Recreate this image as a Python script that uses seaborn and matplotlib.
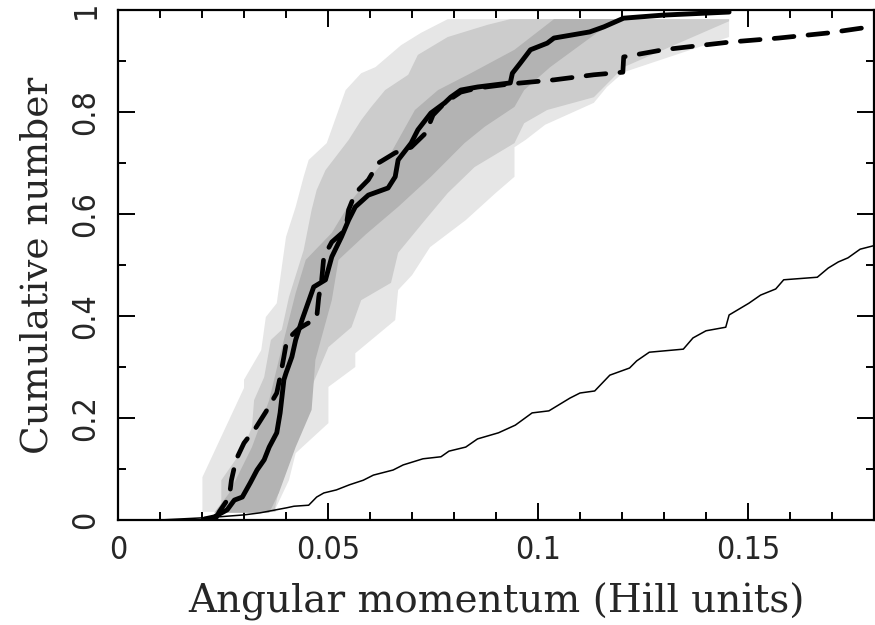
import numpy as np
import matplotlib
matplotlib.use("Agg")
import matplotlib.pyplot as plt
import seaborn as sns
from matplotlib.ticker import MultipleLocator, FuncFormatter

# ---------------- data ----------------
# outer (lightest) band: left edge bottom->top, right edge top->bottom
light_left_x = [0.0201, 0.0201, 0.0300, 0.0300, 0.0341, 0.0352, 0.0378, 0.0400, 0.0423, 0.0442,
                0.0454, 0.0497, 0.0542, 0.0579, 0.0613, 0.0674, 0.0721, 0.0785]
light_left_y = [0.016, 0.084, 0.259, 0.275, 0.333, 0.398, 0.425, 0.555, 0.614, 0.673,
                0.706, 0.739, 0.843, 0.876, 0.888, 0.931, 0.955, 0.982]
light_right_x = [0.1455, 0.1455, 0.1204, 0.1164, 0.1133, 0.1017, 0.0970, 0.0944, 0.0944, 0.0899,
                 0.0828, 0.0743, 0.0700, 0.0667, 0.0660, 0.0565, 0.0565, 0.0501, 0.0501, 0.0423,
                 0.0407, 0.0376, 0.0376]
light_right_y = [0.982, 0.947, 0.878, 0.849, 0.818, 0.775, 0.745, 0.731, 0.673, 0.641,
                 0.588, 0.535, 0.480, 0.451, 0.392, 0.327, 0.300, 0.261, 0.190, 0.131,
                 0.078, 0.024, 0.016]

# middle band
mid_left_x = [0.0246, 0.0246, 0.0296, 0.0319, 0.0324, 0.0348, 0.0364, 0.0390, 0.0407, 0.0442,
              0.0461, 0.0473, 0.0494, 0.0549, 0.0579, 0.0603, 0.0636, 0.0691, 0.0714, 0.0785,
              0.0880, 0.0934]
mid_left_y = [0.016, 0.078, 0.137, 0.182, 0.235, 0.280, 0.353, 0.373, 0.437, 0.529,
              0.608, 0.647, 0.686, 0.745, 0.784, 0.810, 0.843, 0.873, 0.912, 0.947,
              0.971, 0.982]
mid_right_x = [0.1455, 0.1455, 0.1204, 0.1133, 0.1022, 0.0967, 0.0944, 0.0849, 0.0785, 0.0731,
               0.0667, 0.0650, 0.0579, 0.0556, 0.0501, 0.0461, 0.0461, 0.0430, 0.0400, 0.0390,
               0.0374, 0.0374]
mid_right_y = [0.982, 0.978, 0.888, 0.829, 0.804, 0.778, 0.739, 0.692, 0.641, 0.588,
               0.524, 0.465, 0.431, 0.378, 0.339, 0.261, 0.235, 0.190, 0.143, 0.084,
               0.024, 0.016]

# inner (darkest) band
dark_left_x = [0.0229, 0.0265, 0.0319, 0.0360, 0.0383, 0.0423, 0.0447, 0.0509, 0.0556, 0.0650,
               0.0667, 0.0707, 0.0762, 0.0840, 0.0944, 0.1038]
dark_left_y = [0.014, 0.053, 0.143, 0.235, 0.314, 0.445, 0.510, 0.563, 0.627, 0.720,
               0.745, 0.804, 0.843, 0.876, 0.922, 0.982]
dark_right_x = [0.1204, 0.1140, 0.1029, 0.0967, 0.0944, 0.0873, 0.0825, 0.0745, 0.0667, 0.0590,
                0.0525, 0.0509, 0.0470, 0.0461, 0.0423, 0.0383, 0.0360]
dark_right_y = [0.982, 0.955, 0.888, 0.843, 0.810, 0.771, 0.739, 0.673, 0.614, 0.560,
                0.510, 0.431, 0.314, 0.216, 0.143, 0.053, 0.014]

# thick solid cumulative curve
obs_x = [0.0206, 0.0229, 0.0260, 0.0277, 0.0296, 0.0315, 0.0331, 0.0348, 0.0360, 0.0378,
         0.0386, 0.0395, 0.0400, 0.0414, 0.0423, 0.0438, 0.0466, 0.0494, 0.0509, 0.0532,
         0.0549, 0.0565, 0.0596, 0.0643, 0.0660, 0.0667, 0.0698, 0.0714, 0.0745, 0.0778,
         0.0792, 0.0816, 0.0856, 0.0934, 0.0939, 0.0958, 0.0982, 0.1022, 0.1038, 0.1123,
         0.1157, 0.1204, 0.1298, 0.1455]
obs_y = [0.002, 0.006, 0.020, 0.039, 0.045, 0.073, 0.098, 0.118, 0.143, 0.171,
         0.210, 0.275, 0.288, 0.320, 0.353, 0.392, 0.457, 0.471, 0.516, 0.555,
         0.588, 0.614, 0.637, 0.651, 0.673, 0.706, 0.739, 0.765, 0.798, 0.818,
         0.829, 0.843, 0.849, 0.857, 0.876, 0.896, 0.922, 0.935, 0.945, 0.957,
         0.967, 0.984, 0.990, 0.996]

# thick dashed cumulative curve
dash_x = [0.0232, 0.0241, 0.0265, 0.0270, 0.0281, 0.0300, 0.0329, 0.0352, 0.0378, 0.0386,
          0.0395, 0.0402, 0.0430, 0.0473, 0.0478, 0.0485, 0.0490, 0.0509, 0.0542, 0.0549,
          0.0565, 0.0596, 0.0620, 0.0660, 0.0698, 0.0733, 0.0750, 0.0778, 0.0816, 0.0856,
          0.0934, 0.1038, 0.1133, 0.1202, 0.1204, 0.1298, 0.1455, 0.1573, 0.1691, 0.1800]
dash_y = [0.002, 0.016, 0.045, 0.078, 0.118, 0.151, 0.182, 0.212, 0.249, 0.280,
          0.320, 0.353, 0.375, 0.396, 0.437, 0.471, 0.516, 0.545, 0.569, 0.608,
          0.641, 0.667, 0.700, 0.720, 0.731, 0.759, 0.794, 0.818, 0.839, 0.847,
          0.855, 0.863, 0.873, 0.878, 0.908, 0.922, 0.937, 0.945, 0.955, 0.968]

# thin solid cumulative curve
thin_x = [0.0099, 0.0196, 0.0237, 0.0300, 0.0338, 0.0402, 0.0419, 0.0454, 0.0473, 0.0490,
          0.0520, 0.0551, 0.0584, 0.0608, 0.0655, 0.0679, 0.0726, 0.0769, 0.0788, 0.0828,
          0.0856, 0.0906, 0.0946, 0.0986, 0.1026, 0.1076, 0.1100, 0.1135, 0.1171, 0.1218,
          0.1235, 0.1265, 0.1346, 0.1369, 0.1400, 0.1447, 0.1455, 0.1502, 0.1530, 0.1566,
          0.1585, 0.1665, 0.1691, 0.1715, 0.1738, 0.1767, 0.1800]
thin_y = [0.000, 0.004, 0.006, 0.010, 0.014, 0.024, 0.027, 0.029, 0.045, 0.053,
          0.059, 0.069, 0.078, 0.088, 0.098, 0.108, 0.120, 0.124, 0.135, 0.143,
          0.159, 0.171, 0.186, 0.210, 0.214, 0.239, 0.249, 0.253, 0.284, 0.298,
          0.312, 0.329, 0.335, 0.357, 0.371, 0.378, 0.402, 0.425, 0.441, 0.453,
          0.471, 0.476, 0.494, 0.506, 0.514, 0.531, 0.538]

x_ticks = [0, 0.05, 0.1, 0.15]
y_ticks = [0, 0.2, 0.4, 0.6, 0.8, 1.0]
x_label = "Angular momentum (Hill units)"
y_label = "Cumulative number"

# ---------------- style ----------------
sns.set_style("ticks")
plt.rcParams["font.family"] = ["DejaVu Serif"]

fig = plt.figure(figsize=(8.75, 6.25), dpi=100)
ax = fig.add_axes([118 / 875, 105 / 625, 756 / 875, 510 / 625])

band_colors = ["#e6e6e6", "#cccccc", "#b3b3b3"]
for (lx, ly, rx, ry), c in zip(
        [(light_left_x, light_left_y, light_right_x, light_right_y),
         (mid_left_x, mid_left_y, mid_right_x, mid_right_y),
         (dark_left_x, dark_left_y, dark_right_x, dark_right_y)], band_colors):
    ax.fill(list(lx) + list(rx), list(ly) + list(ry), color=c, lw=0, zorder=1)

sns.lineplot(x=thin_x, y=thin_y, sort=False, estimator=None, color="black", lw=1.1, ax=ax, zorder=3)
sns.lineplot(x=obs_x, y=obs_y, sort=False, estimator=None, color="black", lw=3.5, ax=ax, zorder=4,
             solid_capstyle="round", solid_joinstyle="round")
sns.lineplot(x=dash_x, y=dash_y, sort=False, estimator=None, color="black", lw=3.4, ax=ax, zorder=4,
             linestyle=(0, (4.2, 3.0)), dash_capstyle="round", dash_joinstyle="round")

ax.set_xlim(0, 0.18)
ax.set_ylim(0, 1)
ax.set_xticks(x_ticks)
ax.set_yticks(y_ticks)
ax.xaxis.set_minor_locator(MultipleLocator(0.01))
ax.yaxis.set_minor_locator(MultipleLocator(0.1))
fmt = FuncFormatter(lambda v, p: "%g" % v)
ax.xaxis.set_major_formatter(fmt)
ax.yaxis.set_major_formatter(fmt)

ax.tick_params(which="both", direction="in", top=True, right=True, width=1.4, color="black")
ax.tick_params(which="major", length=12)
ax.tick_params(which="minor", length=6)
ax.tick_params(axis="x", which="major", pad=11)
ax.tick_params(axis="y", which="major", pad=12, labelrotation=90)
for lbl in ax.get_xticklabels() + ax.get_yticklabels():
    lbl.set_fontfamily(["DejaVu Sans"])
    lbl.set_fontstretch("condensed")
    lbl.set_fontweight("light")
    lbl.set_fontsize(23)
for lbl in ax.get_yticklabels():
    lbl.set_verticalalignment("center")

for s in ax.spines.values():
    s.set_linewidth(1.6)
    s.set_color("black")
    s.set_visible(True)

ax.set_xlabel(x_label, fontsize=28, labelpad=12)
ax.set_ylabel(y_label, fontsize=27, labelpad=11)

fig.savefig("out.png", dpi=100)
